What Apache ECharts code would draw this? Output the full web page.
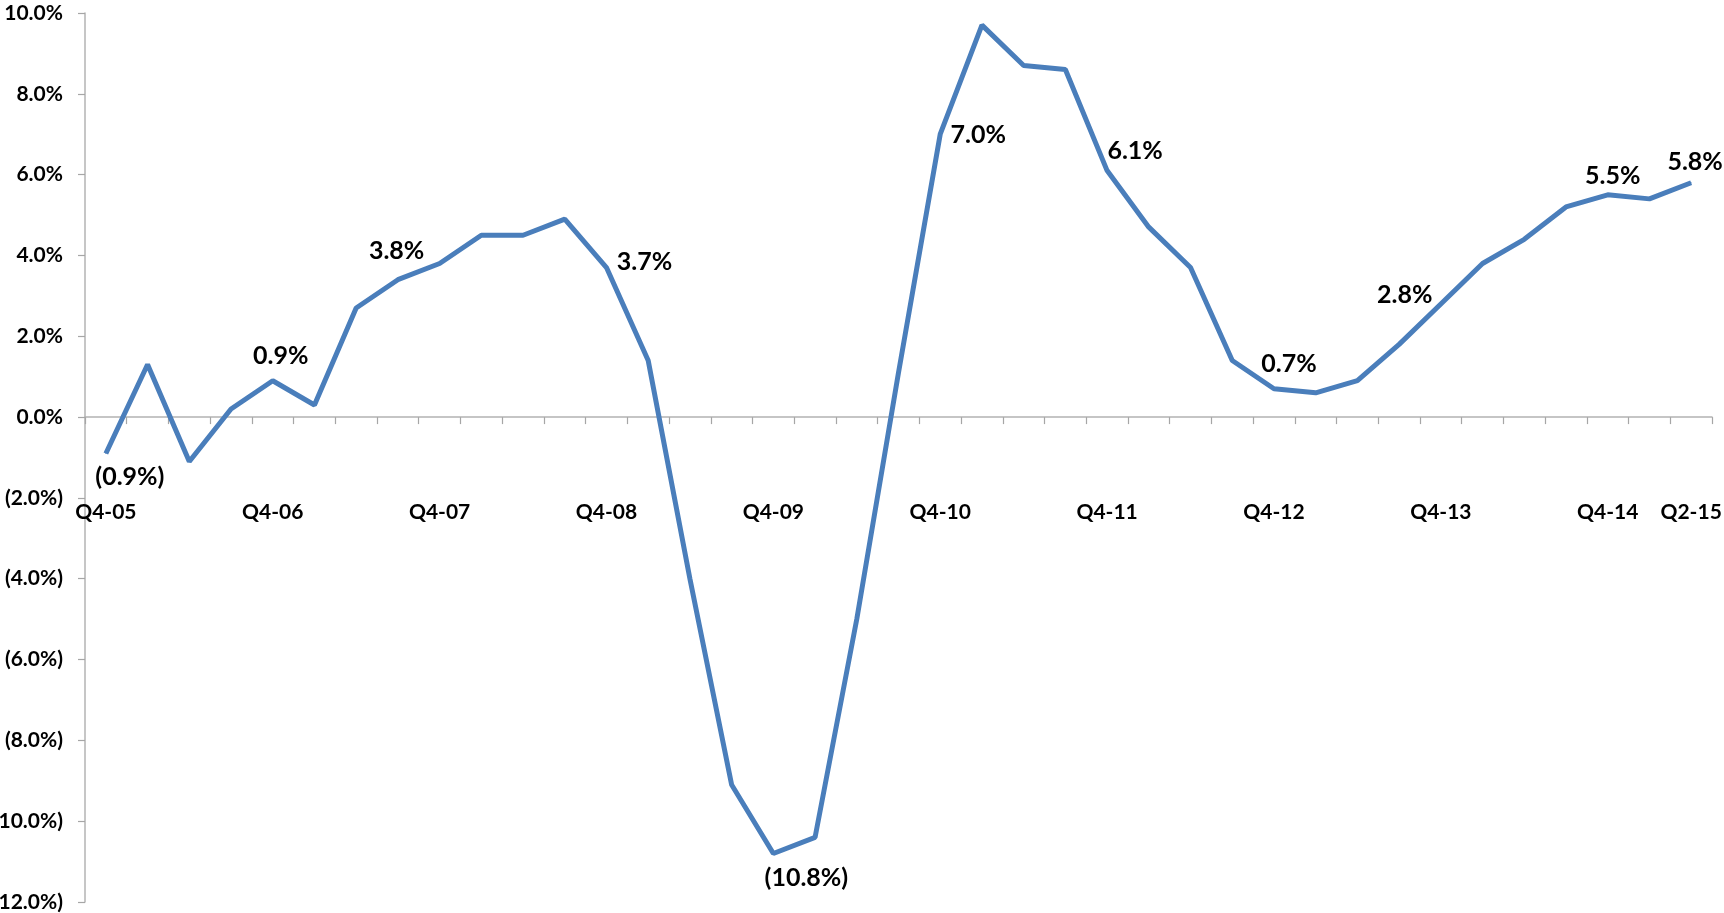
<!DOCTYPE html>
<html>
<head>
<meta charset="utf-8">
<script src="https://cdn.jsdelivr.net/npm/echarts@6/dist/echarts.min.js"></script>
<style>
html,body{margin:0;padding:0;background:#fff;}
#chart{width:1724px;height:913px;}
</style>
</head>
<body>
<div id="chart"></div>
<script>
const categories = ['Q4-05','Q1-06','Q2-06','Q3-06','Q4-06','Q1-07','Q2-07','Q3-07','Q4-07','Q1-08','Q2-08','Q3-08','Q4-08','Q1-09','Q2-09','Q3-09','Q4-09','Q1-10','Q2-10','Q3-10','Q4-10','Q1-11','Q2-11','Q3-11','Q4-11','Q1-12','Q2-12','Q3-12','Q4-12','Q1-13','Q2-13','Q3-13','Q4-13','Q1-14','Q2-14','Q3-14','Q4-14','Q1-15','Q2-15'];
const growth = [-0.9, 1.3, -1.1, 0.2, 0.9, 0.3, 2.7, 3.4, 3.8, 4.5, 4.5, 4.9, 3.7, 1.4, -4.0, -9.1, -10.8, -10.4, -5.0, 1.1, 7.0, 9.7, 8.7, 8.6, 6.1, 4.7, 3.7, 1.4, 0.7, 0.6, 0.9, 1.8, 2.8, 3.8, 4.4, 5.2, 5.5, 5.4, 5.8];
const labeledCategories = ['Q4-05','Q4-06','Q4-07','Q4-08','Q4-09','Q4-10','Q4-11','Q4-12','Q4-13','Q4-14','Q2-15'];
const yMin = -12, yMax = 10, yStep = 2;

// label placement (style only): offset from point, in px
const labelOffsets = {
  'Q4-05': [24, 23], 'Q4-06': [8, -25], 'Q4-07': [-43, -13], 'Q4-08': [38, -6],
  'Q4-09': [33, 24], 'Q4-10': [38, 1], 'Q4-11': [28, -20], 'Q4-12': [15, -25],
  'Q4-13': [-36, -9], 'Q4-14': [5, -19], 'Q2-15': [4, -21]
};

function pct(v) {
  const s = Math.abs(v).toFixed(1) + '%';
  return v < 0 ? '(' + s + ')' : s;
}

const FONT = 'Lato, "Open Sans", sans-serif';
const W = 1724, H = 913;
const GRID = { left: 85, right: 12, top: 13, bottom: 11 };
const plotH = H - GRID.top - GRID.bottom;
// distance of the zero line above the grid bottom
const zeroOffset = plotH * (0 - yMin) / (yMax - yMin);

const seriesData = growth.map((v, i) => {
  const c = categories[i];
  if (labeledCategories.indexOf(c) >= 0) {
    return {
      value: v,
      label: {
        show: true,
        position: 'inside',
        offset: labelOffsets[c],
        align: 'center',
        verticalAlign: 'middle',
        formatter: (p) => pct(p.value),
        fontFamily: FONT,
        fontWeight: 'bold',
        fontSize: 25,
        color: '#000'
      }
    };
  }
  return { value: v };
});

const chart = echarts.init(document.getElementById('chart'), null, { renderer: 'canvas' });
chart.setOption({
  animation: false,
  backgroundColor: '#fff',
  grid: Object.assign({ containLabel: false, outerBoundsMode: 'none' }, GRID),
  xAxis: {
    type: 'category',
    data: categories,
    boundaryGap: true,
    position: 'bottom',
    offset: -zeroOffset,
    axisLine: { onZero: false, lineStyle: { color: '#b3b3b3', width: 1.5 } },
    axisTick: { show: true, interval: 0, length: 7, alignWithLabel: false, lineStyle: { color: '#a6a6a6', width: 1.2 } },
    axisLabel: {
      interval: (i, v) => labeledCategories.indexOf(v) >= 0 && (v.startsWith('Q4') || i === categories.length - 1),
      margin: 85,
      fontFamily: FONT,
      fontWeight: 'bold',
      fontSize: 21,
      color: '#000'
    },
    splitLine: { show: false }
  },
  yAxis: {
    type: 'value',
    min: yMin,
    max: yMax,
    interval: yStep,
    axisLine: { show: true, lineStyle: { color: '#b3b3b3', width: 1.5 } },
    axisTick: { show: true, length: 7, lineStyle: { color: '#a6a6a6', width: 1.2 } },
    axisLabel: {
      margin: 22,
      formatter: (v) => pct(v),
      fontFamily: FONT,
      fontWeight: 'bold',
      fontSize: 21,
      color: '#000'
    },
    splitLine: { show: false }
  },
  series: [{
    type: 'line',
    data: seriesData,
    symbol: 'circle',
    symbolSize: 1,
    showSymbol: true,
    itemStyle: { color: '#4a7ebb' },
    lineStyle: { color: '#4a7ebb', width: 5 },
    emphasis: { disabled: true }
  }]
});
</script>
</body>
</html>
